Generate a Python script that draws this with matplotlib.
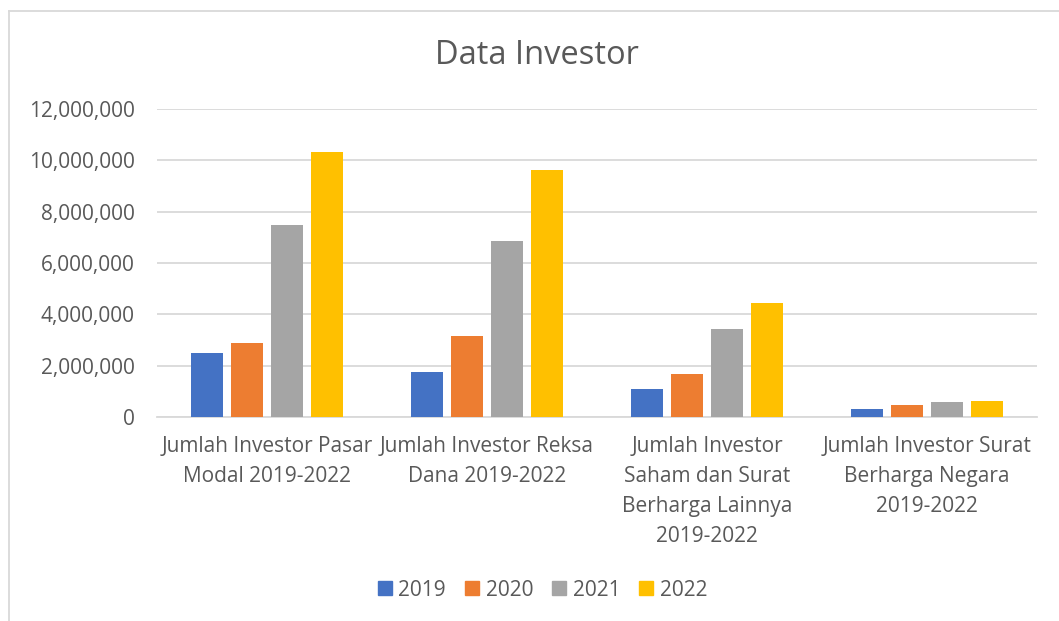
import matplotlib
matplotlib.use("Agg")
import matplotlib.pyplot as plt
import numpy as np
from matplotlib.ticker import FuncFormatter
from matplotlib.lines import Line2D

categories = [
    "Jumlah Investor Pasar\nModal 2019-2022",
    "Jumlah Investor Reksa\nDana 2019-2022",
    "Jumlah Investor\nSaham dan Surat\nBerharga Lainnya\n2019-2022",
    "Jumlah Investor Surat\nBerharga Negara\n2019-2022",
]
years = ["2019", "2020", "2021", "2022"]
v2019 = [2480000, 1770000, 1110000, 300000]
v2020 = [2890000, 3160000, 1680000, 460000]
v2021 = [7490000, 6840000, 3440000, 600000]
v2022 = [10310000, 9610000, 4430000, 630000]
series = [v2019, v2020, v2021, v2022]
colors = ["#4472C4", "#ED7D31", "#A5A5A5", "#FFC000"]

plt.rcParams['font.family'] = ['Open Sans', 'DejaVu Sans']
txt = "#595959"

fig = plt.figure(figsize=(10.59, 6.21), dpi=100)
ax = fig.add_axes([157/1059, 1-417/621, 880/1059, 308/621])

x = np.arange(len(categories))
slot = 40/220
bw = 32/220
for i, (vals, c, lab) in enumerate(zip(series, colors, years)):
    ax.bar(x + (i - 1.5)*slot, vals, width=bw, color=c, label=lab, zorder=3)

ax.set_xlim(-0.5, 3.5)
ax.set_ylim(0, 12000000)
ax.set_yticks(np.arange(0, 12000001, 2000000))
ax.yaxis.set_major_formatter(FuncFormatter(lambda v, p: f"{int(v):,}"))
ax.set_xticks(x)
ax.set_xticklabels(categories, linespacing=1.56)
ax.grid(axis='y', color='#D9D9D9', linewidth=1.3, zorder=0)
for s in ['top', 'right', 'left']:
    ax.spines[s].set_visible(False)
ax.spines['bottom'].set_color('#D9D9D9')
ax.spines['bottom'].set_linewidth(1.3)
ax.tick_params(axis='both', length=0, labelsize=15, colors=txt)
ax.tick_params(axis='y', pad=16)
ax.tick_params(axis='x', pad=14)

fig.text(537/1059, 1-56/621, "Data Investor", ha='center', va='center',
         fontsize=23.5, color=txt)

handles = [Line2D([0], [0], marker='s', linestyle='none', markersize=10,
                  markerfacecolor=c, markeredgecolor=c) for c in colors]
fig.legend(handles, years, loc='center', bbox_to_anchor=(541/1059, 1-590/621),
           ncol=4, frameon=False, fontsize=15, labelcolor=txt,
           handletextpad=0.15, columnspacing=0.75, handlelength=1.0)

fig.add_artist(Line2D([9/1059, 9/1059], [0, 1-10.5/621], transform=fig.transFigure,
                      color='#D9D9D9', linewidth=1.3))
fig.add_artist(Line2D([9/1059, 1], [1-10.5/621, 1-10.5/621], transform=fig.transFigure,
                      color='#D9D9D9', linewidth=1.3))

fig.savefig("out.png", dpi=100)
